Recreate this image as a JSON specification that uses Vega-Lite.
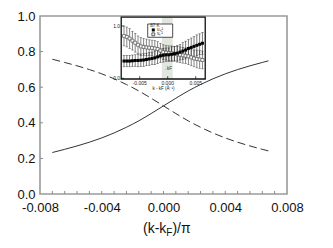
{
  "$schema": "https://vega.github.io/schema/vega-lite/v6.json",
  "width": 247,
  "height": 178,
  "autosize": {"type": "none"},
  "padding": {"left": 40, "top": 16, "right": 46, "bottom": 54},
  "config": {
    "view": {"stroke": "#9a9a9a", "strokeWidth": 1.6},
    "font": "Liberation Sans",
    "text": {"font": "Liberation Sans", "color": "#111"},
    "axis": {"labelFont": "Liberation Sans", "labelFontSize": 13, "labelColor": "#111", "grid": false, "domain": false, "title": null, "ticks": false}
  },
  "resolve": {"scale": {"x": "independent", "y": "independent"}},
  "layer": [
    {
      "data": {"values": [
        {"k": -0.0072, "u2": 0.233, "v2": 0.757},
        {"k": -0.0064, "u2": 0.251, "v2": 0.739},
        {"k": -0.0056, "u2": 0.27, "v2": 0.72},
        {"k": -0.0048, "u2": 0.291, "v2": 0.699},
        {"k": -0.004, "u2": 0.315, "v2": 0.675},
        {"k": -0.0032, "u2": 0.343, "v2": 0.647},
        {"k": -0.0024, "u2": 0.375, "v2": 0.615},
        {"k": -0.0016, "u2": 0.411, "v2": 0.579},
        {"k": -0.0008, "u2": 0.452, "v2": 0.538},
        {"k": 0, "u2": 0.495, "v2": 0.495},
        {"k": 0.0008, "u2": 0.538, "v2": 0.452},
        {"k": 0.0016, "u2": 0.579, "v2": 0.411},
        {"k": 0.0024, "u2": 0.615, "v2": 0.375},
        {"k": 0.0032, "u2": 0.647, "v2": 0.343},
        {"k": 0.004, "u2": 0.675, "v2": 0.315},
        {"k": 0.0048, "u2": 0.699, "v2": 0.291},
        {"k": 0.0056, "u2": 0.72, "v2": 0.27},
        {"k": 0.0064, "u2": 0.739, "v2": 0.251},
        {"k": 0.0068, "u2": 0.748, "v2": 0.242}
      ]},
      "encoding": {
        "x": {"field": "k", "type": "quantitative",
          "scale": {"domain": [-0.008, 0.008], "nice": false, "zero": false},
          "axis": {
            "values": [-0.008, -0.004, 0, 0.004, 0.008],
            "labelExpr": "replace(format(datum.value, '.3f'), '\u2212', '-')",
            "labelPadding": 7, "labelFlush": false, "labelOverlap": false
          }},
        "y": {"field": "u2", "type": "quantitative",
          "scale": {"domain": [0, 1], "nice": false, "zero": false},
          "axis": {
            "values": [0, 0.2, 0.4, 0.6, 0.8, 1.0], "format": ".1f",
            "labelPadding": 5, "labelFlush": false, "labelOverlap": false
          }}
      },
      "layer": [
        {
          "mark": {"type": "line", "color": "#333", "strokeWidth": 1, "interpolate": "monotone"}
        },
        {
          "mark": {"type": "line", "color": "#333", "strokeWidth": 1, "strokeDash": [8, 4], "interpolate": "monotone"},
          "encoding": {
            "y": {"field": "v2", "type": "quantitative"}
          }
        }
      ]
    },
    {
      "encoding": {
        "x": {"type": "quantitative", "scale": {"domain": [-0.008, 0.008], "nice": false, "zero": false}, "axis": null},
        "y": {"type": "quantitative", "scale": {"domain": [0, 1], "nice": false, "zero": false}, "axis": null}
      },
      "layer": [
        {
          "data": {"values": [{"t": -0.0072}, {"t": -0.0064}, {"t": -0.0056}, {"t": -0.0048}, {"t": -0.004}, {"t": -0.0032}, {"t": -0.0024}, {"t": -0.0016}, {"t": -0.0008}, {"t": 0}, {"t": 0.0008}, {"t": 0.0016}, {"t": 0.0024}, {"t": 0.0032}, {"t": 0.004}, {"t": 0.0048}, {"t": 0.0056}, {"t": 0.0064}, {"t": 0.0072}]},
          "mark": {"type": "rule", "color": "#8a8a8a", "strokeWidth": 1},
          "encoding": {
            "x": {"field": "t", "type": "quantitative"},
            "y": {"datum": 0, "type": "quantitative"},
            "y2": {"datum": 0.017}
          }
        },
        {
          "data": {"values": [{"t": 0.2}, {"t": 0.4}, {"t": 0.6}, {"t": 0.8}]},
          "mark": {"type": "rule", "color": "#8a8a8a", "strokeWidth": 1},
          "encoding": {
            "x": {"datum": -0.008, "type": "quantitative"},
            "x2": {"datum": -0.0078},
            "y": {"field": "t", "type": "quantitative"}
          }
        },
        {
          "data": {"values": [{}]},
          "mark": {"type": "text", "fontSize": 14, "align": "right", "baseline": "alphabetic", "color": "#111"},
          "encoding": {
            "x": {"datum": 0.000181, "type": "quantitative"},
            "y": {"datum": -0.219, "type": "quantitative"},
            "text": {"value": "(k-k"}
          }
        },
        {
          "data": {"values": [{}]},
          "mark": {"type": "text", "fontSize": 10, "align": "left", "baseline": "alphabetic", "color": "#111"},
          "encoding": {
            "x": {"datum": 0.000181, "type": "quantitative"},
            "y": {"datum": -0.236, "type": "quantitative"},
            "text": {"value": "F"}
          }
        },
        {
          "data": {"values": [{}]},
          "mark": {"type": "text", "fontSize": 14, "align": "left", "baseline": "alphabetic", "color": "#111"},
          "encoding": {
            "x": {"datum": 0.000577, "type": "quantitative"},
            "y": {"datum": -0.219, "type": "quantitative"},
            "text": {"value": ")/π"}
          }
        }
      ]
    },
    {
      "encoding": {
        "x": {"type": "quantitative", "scale": {"domain": [-0.0228, 0.0213], "nice": false, "zero": false}, "axis": null},
        "y": {"type": "quantitative", "scale": {"domain": [-2.212, 1.191], "nice": false, "zero": false}, "axis": null}
      },
      "layer": [
        {
          "data": {"values": [{}]},
          "mark": {"type": "rect", "fill": "white", "stroke": null},
          "encoding": {
            "x": {"datum": -0.0083, "type": "quantitative"},
            "x2": {"datum": 0.0067},
            "y": {"datum": -0.013, "type": "quantitative"},
            "y2": {"datum": 1.17}
          }
        },
        {
          "data": {"values": [{}]},
          "mark": {"type": "rect", "fill": "#e3e6de", "stroke": null},
          "encoding": {
            "x": {"datum": -0.00105, "type": "quantitative"},
            "x2": {"datum": 0.0009},
            "y": {"datum": -0.013, "type": "quantitative"},
            "y2": {"datum": 1.17}
          }
        },
        {
          "data": {"name": "inset"},
          "mark": {"type": "rule", "color": "#333", "strokeWidth": 0.6},
          "encoding": {
            "x": {"field": "k", "type": "quantitative"},
            "y": {"field": "vLo", "type": "quantitative"},
            "y2": {"field": "vHi"}
          }
        },
        {
          "data": {"name": "inset"},
          "mark": {"type": "tick", "orient": "horizontal", "color": "#333", "size": 2.5, "thickness": 0.6},
          "encoding": {
            "x": {"field": "k", "type": "quantitative"},
            "y": {"field": "vHi", "type": "quantitative"}
          }
        },
        {
          "data": {"name": "inset"},
          "mark": {"type": "tick", "orient": "horizontal", "color": "#333", "size": 2.5, "thickness": 0.6},
          "encoding": {
            "x": {"field": "k", "type": "quantitative"},
            "y": {"field": "vLo", "type": "quantitative"}
          }
        },
        {
          "data": {"name": "inset"},
          "mark": {"type": "rule", "color": "#222", "strokeWidth": 0.6},
          "encoding": {
            "x": {"field": "k", "type": "quantitative"},
            "y": {"field": "uLo", "type": "quantitative"},
            "y2": {"field": "uHi"}
          }
        },
        {
          "data": {"name": "inset"},
          "mark": {"type": "tick", "orient": "horizontal", "color": "#222", "size": 2.5, "thickness": 0.6},
          "encoding": {
            "x": {"field": "k", "type": "quantitative"},
            "y": {"field": "uHi", "type": "quantitative"}
          }
        },
        {
          "data": {"name": "inset"},
          "mark": {"type": "tick", "orient": "horizontal", "color": "#222", "size": 2.5, "thickness": 0.6},
          "encoding": {
            "x": {"field": "k", "type": "quantitative"},
            "y": {"field": "uLo", "type": "quantitative"}
          }
        },
        {
          "data": {"name": "inset"},
          "mark": {"type": "square", "size": 9, "filled": true, "fill": "white", "stroke": "#555", "strokeWidth": 0.7, "opacity": 1},
          "encoding": {
            "x": {"field": "k", "type": "quantitative"},
            "y": {"field": "v", "type": "quantitative"}
          }
        },
        {
          "data": {"name": "inset"},
          "mark": {"type": "square", "size": 9, "filled": true, "color": "#000", "opacity": 1},
          "encoding": {
            "x": {"field": "k", "type": "quantitative"},
            "y": {"field": "u", "type": "quantitative"}
          }
        },
        {
          "data": {"values": [{}]},
          "mark": {"type": "rect", "fill": "white", "stroke": "#222", "strokeWidth": 0.8},
          "encoding": {
            "x": {"datum": -0.00357, "type": "quantitative"},
            "x2": {"datum": 0.00089},
            "y": {"datum": 0.784, "type": "quantitative"},
            "y2": {"datum": 1.038}
          }
        },
        {
          "data": {"values": [{}]},
          "mark": {"type": "text", "fontSize": 4.5, "align": "left", "baseline": "middle", "color": "#222"},
          "encoding": {
            "x": {"datum": -0.0031, "type": "quantitative"},
            "y": {"datum": 0.995, "type": "quantitative"},
            "text": {"value": "87 K"}
          }
        },
        {
          "data": {"values": [{}]},
          "mark": {"type": "square", "size": 9, "filled": true, "color": "#000", "opacity": 1},
          "encoding": {
            "x": {"datum": -0.00257, "type": "quantitative"},
            "y": {"datum": 0.924, "type": "quantitative"}
          }
        },
        {
          "data": {"values": [{}]},
          "mark": {"type": "square", "size": 8, "filled": true, "fill": "white", "stroke": "#333", "strokeWidth": 0.8, "opacity": 1},
          "encoding": {
            "x": {"datum": -0.00257, "type": "quantitative"},
            "y": {"datum": 0.841, "type": "quantitative"}
          }
        },
        {
          "data": {"values": [{"lab": "uₖ²", "t": 0.924}, {"lab": "vₖ²", "t": 0.841}]},
          "mark": {"type": "text", "fontSize": 4.5, "align": "left", "baseline": "middle", "color": "#222"},
          "encoding": {
            "x": {"datum": -0.0019, "type": "quantitative"},
            "y": {"field": "t", "type": "quantitative"},
            "text": {"field": "lab"}
          }
        },
        {
          "data": {"values": [{}]},
          "mark": {"type": "text", "fontSize": 4.5, "align": "center", "baseline": "middle", "color": "#333"},
          "encoding": {
            "x": {"datum": -0.00007, "type": "quantitative"},
            "y": {"datum": 0.18, "type": "quantitative"},
            "text": {"value": "→kF"}
          }
        },
        {
          "data": {"values": [{"t": -0.005}, {"t": 0}, {"t": 0.005}]},
          "mark": {"type": "rule", "color": "#222", "strokeWidth": 0.8},
          "encoding": {
            "x": {"field": "t", "type": "quantitative"},
            "y": {"datum": -0.013, "type": "quantitative"},
            "y2": {"datum": 0.04}
          }
        },
        {
          "data": {"values": [{"t": 0}, {"t": 1}]},
          "mark": {"type": "rule", "color": "#222", "strokeWidth": 0.8},
          "encoding": {
            "x": {"datum": -0.0083, "type": "quantitative"},
            "x2": {"datum": -0.0078},
            "y": {"field": "t", "type": "quantitative"}
          }
        },
        {
          "data": {"values": [{}]},
          "mark": {"type": "rect", "fill": null, "fillOpacity": 0, "stroke": "#111", "strokeWidth": 1.3},
          "encoding": {
            "x": {"datum": -0.0083, "type": "quantitative"},
            "x2": {"datum": 0.0067},
            "y": {"datum": -0.013, "type": "quantitative"},
            "y2": {"datum": 1.17}
          }
        },
        {
          "data": {"values": [{"t": -0.005, "lab": "-0.005"}, {"t": 0, "lab": "0.000"}, {"t": 0.005, "lab": "0.005"}]},
          "mark": {"type": "text", "fontSize": 5, "align": "center", "baseline": "middle", "color": "#222"},
          "encoding": {
            "x": {"field": "t", "type": "quantitative"},
            "y": {"datum": -0.09, "type": "quantitative"},
            "text": {"field": "lab"}
          }
        },
        {
          "data": {"values": [{"t": 1, "lab": "1.0"}, {"t": 0, "lab": "0.0"}]},
          "mark": {"type": "text", "fontSize": 5, "align": "right", "baseline": "middle", "color": "#222"},
          "encoding": {
            "x": {"datum": -0.0085, "type": "quantitative"},
            "y": {"field": "t", "type": "quantitative"},
            "text": {"field": "lab"}
          }
        },
        {
          "data": {"values": [{}]},
          "mark": {"type": "text", "fontSize": 4.5, "align": "center", "baseline": "middle", "color": "#222"},
          "encoding": {
            "x": {"datum": -0.00075, "type": "quantitative"},
            "y": {"datum": -0.21, "type": "quantitative"},
            "text": {"value": "k - kF  (Å⁻¹)"}
          }
        }
      ]
    }
  ],
  "datasets": {
    "inset": [
      {"k": -0.0078, "u": 0.33, "uLo": 0.22, "uHi": 0.44, "v": 0.81, "vLo": 0.62, "vHi": 1.0},
      {"k": -0.0073, "u": 0.33, "uLo": 0.22, "uHi": 0.44, "v": 0.79, "vLo": 0.6, "vHi": 0.98},
      {"k": -0.0068, "u": 0.33, "uLo": 0.22, "uHi": 0.44, "v": 0.76, "vLo": 0.57, "vHi": 0.95},
      {"k": -0.0063, "u": 0.335, "uLo": 0.225, "uHi": 0.445, "v": 0.72, "vLo": 0.54, "vHi": 0.9},
      {"k": -0.0058, "u": 0.34, "uLo": 0.23, "uHi": 0.45, "v": 0.68, "vLo": 0.5, "vHi": 0.86},
      {"k": -0.0053, "u": 0.34, "uLo": 0.22, "uHi": 0.46, "v": 0.64, "vLo": 0.47, "vHi": 0.81},
      {"k": -0.0048, "u": 0.345, "uLo": 0.225, "uHi": 0.465, "v": 0.61, "vLo": 0.44, "vHi": 0.78},
      {"k": -0.0043, "u": 0.35, "uLo": 0.23, "uHi": 0.47, "v": 0.6, "vLo": 0.44, "vHi": 0.76},
      {"k": -0.0038, "u": 0.36, "uLo": 0.24, "uHi": 0.48, "v": 0.59, "vLo": 0.43, "vHi": 0.75},
      {"k": -0.0033, "u": 0.37, "uLo": 0.25, "uHi": 0.49, "v": 0.585, "vLo": 0.435, "vHi": 0.735},
      {"k": -0.0028, "u": 0.38, "uLo": 0.26, "uHi": 0.5, "v": 0.58, "vLo": 0.43, "vHi": 0.73},
      {"k": -0.0023, "u": 0.39, "uLo": 0.26, "uHi": 0.52, "v": 0.57, "vLo": 0.42, "vHi": 0.72},
      {"k": -0.0018, "u": 0.41, "uLo": 0.28, "uHi": 0.54, "v": 0.56, "vLo": 0.42, "vHi": 0.7},
      {"k": -0.0013, "u": 0.43, "uLo": 0.3, "uHi": 0.56, "v": 0.53, "vLo": 0.39, "vHi": 0.67},
      {"k": -0.0008, "u": 0.44, "uLo": 0.31, "uHi": 0.57, "v": 0.5, "vLo": 0.36, "vHi": 0.64},
      {"k": -0.0003, "u": 0.45, "uLo": 0.32, "uHi": 0.58, "v": 0.49, "vLo": 0.35, "vHi": 0.63},
      {"k": 0.0002, "u": 0.45, "uLo": 0.32, "uHi": 0.58, "v": 0.48, "vLo": 0.34, "vHi": 0.62},
      {"k": 0.0007, "u": 0.46, "uLo": 0.32, "uHi": 0.6, "v": 0.48, "vLo": 0.34, "vHi": 0.62},
      {"k": 0.0012, "u": 0.47, "uLo": 0.33, "uHi": 0.61, "v": 0.47, "vLo": 0.33, "vHi": 0.61},
      {"k": 0.0017, "u": 0.48, "uLo": 0.33, "uHi": 0.63, "v": 0.46, "vLo": 0.31, "vHi": 0.61},
      {"k": 0.0022, "u": 0.5, "uLo": 0.35, "uHi": 0.65, "v": 0.45, "vLo": 0.3, "vHi": 0.6},
      {"k": 0.0027, "u": 0.52, "uLo": 0.36, "uHi": 0.68, "v": 0.44, "vLo": 0.29, "vHi": 0.59},
      {"k": 0.0032, "u": 0.54, "uLo": 0.37, "uHi": 0.71, "v": 0.43, "vLo": 0.28, "vHi": 0.58},
      {"k": 0.0037, "u": 0.57, "uLo": 0.4, "uHi": 0.74, "v": 0.42, "vLo": 0.26, "vHi": 0.58},
      {"k": 0.0042, "u": 0.59, "uLo": 0.41, "uHi": 0.77, "v": 0.4, "vLo": 0.24, "vHi": 0.56},
      {"k": 0.0047, "u": 0.61, "uLo": 0.42, "uHi": 0.8, "v": 0.38, "vLo": 0.22, "vHi": 0.54},
      {"k": 0.0052, "u": 0.63, "uLo": 0.43, "uHi": 0.83, "v": 0.37, "vLo": 0.2, "vHi": 0.54},
      {"k": 0.0057, "u": 0.65, "uLo": 0.45, "uHi": 0.85, "v": 0.36, "vLo": 0.19, "vHi": 0.53},
      {"k": 0.0062, "u": 0.67, "uLo": 0.46, "uHi": 0.88, "v": 0.35, "vLo": 0.18, "vHi": 0.52}
    ]
  }
}
